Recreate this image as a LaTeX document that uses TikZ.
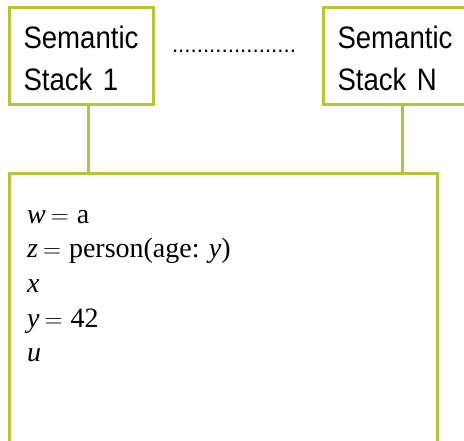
\documentclass[tikz,border=0pt]{standalone}
\usepackage{fontspec}
\setmainfont{Liberation Serif}
\newfontfamily\stackfont[FakeStretch=0.89]{Liberation Sans}
\newfontfamily\dotfont{Liberation Sans}
\definecolor{stackgreen}{RGB}{181,197,55}
\newcommand{\eqsign}{\hspace{5pt}$=$\hspace{8pt}}
\begin{document}
\begin{tikzpicture}[x=1pt,y=1pt,
  stackbox/.style={draw=stackgreen, line width=3pt, rectangle, anchor=north west,
    minimum width=144pt, minimum height=97pt, inner xsep=14pt, inner ysep=0pt,
    text width=116pt, align=left,
    font=\stackfont\fontsize{31pt}{42pt}\selectfont},
  membox/.style={draw=stackgreen, line width=3pt, rectangle, anchor=north west,
    minimum width=428pt, minimum height=300pt, inner sep=0pt},
  link/.style={draw=stackgreen, line width=3pt}]
  \useasboundingbox (0,0) rectangle (464,-441);

  % semantic stacks
  \node[stackbox] (s1) at (8,-6) {\rule{0pt}{27pt}Semantic\\Stack 1};
  \node[stackbox] (sN) at (322,-6) {\rule{0pt}{27pt}Semantic\\Stack N};
  \node[font=\dotfont\fontsize{22.3pt}{26pt}\selectfont, inner sep=0pt, anchor=base]
    (dots) at (234,-52.5) {....................};

  % shared memory
  \node[membox] (mem) at (8,-172) {};
  \node[anchor=north west, inner sep=0pt, align=left,
        font=\fontsize{28pt}{34.7pt}\selectfont] (bind) at (27,-203)
    {\rule{0pt}{20pt}\textit{w}\eqsign a\\
     \textit{z}\eqsign person(age: \textit{y})\\
     \textit{x}\\
     \textit{y}\eqsign 42\\
     \textit{u}};

  % links from stacks to memory
  \draw[link] ([xshift=7pt]s1.south) -- ([xshift=7pt]s1.south |- mem.north);
  \draw[link] ([xshift=7pt]sN.south) -- ([xshift=7pt]sN.south |- mem.north);
\end{tikzpicture}
\end{document}
